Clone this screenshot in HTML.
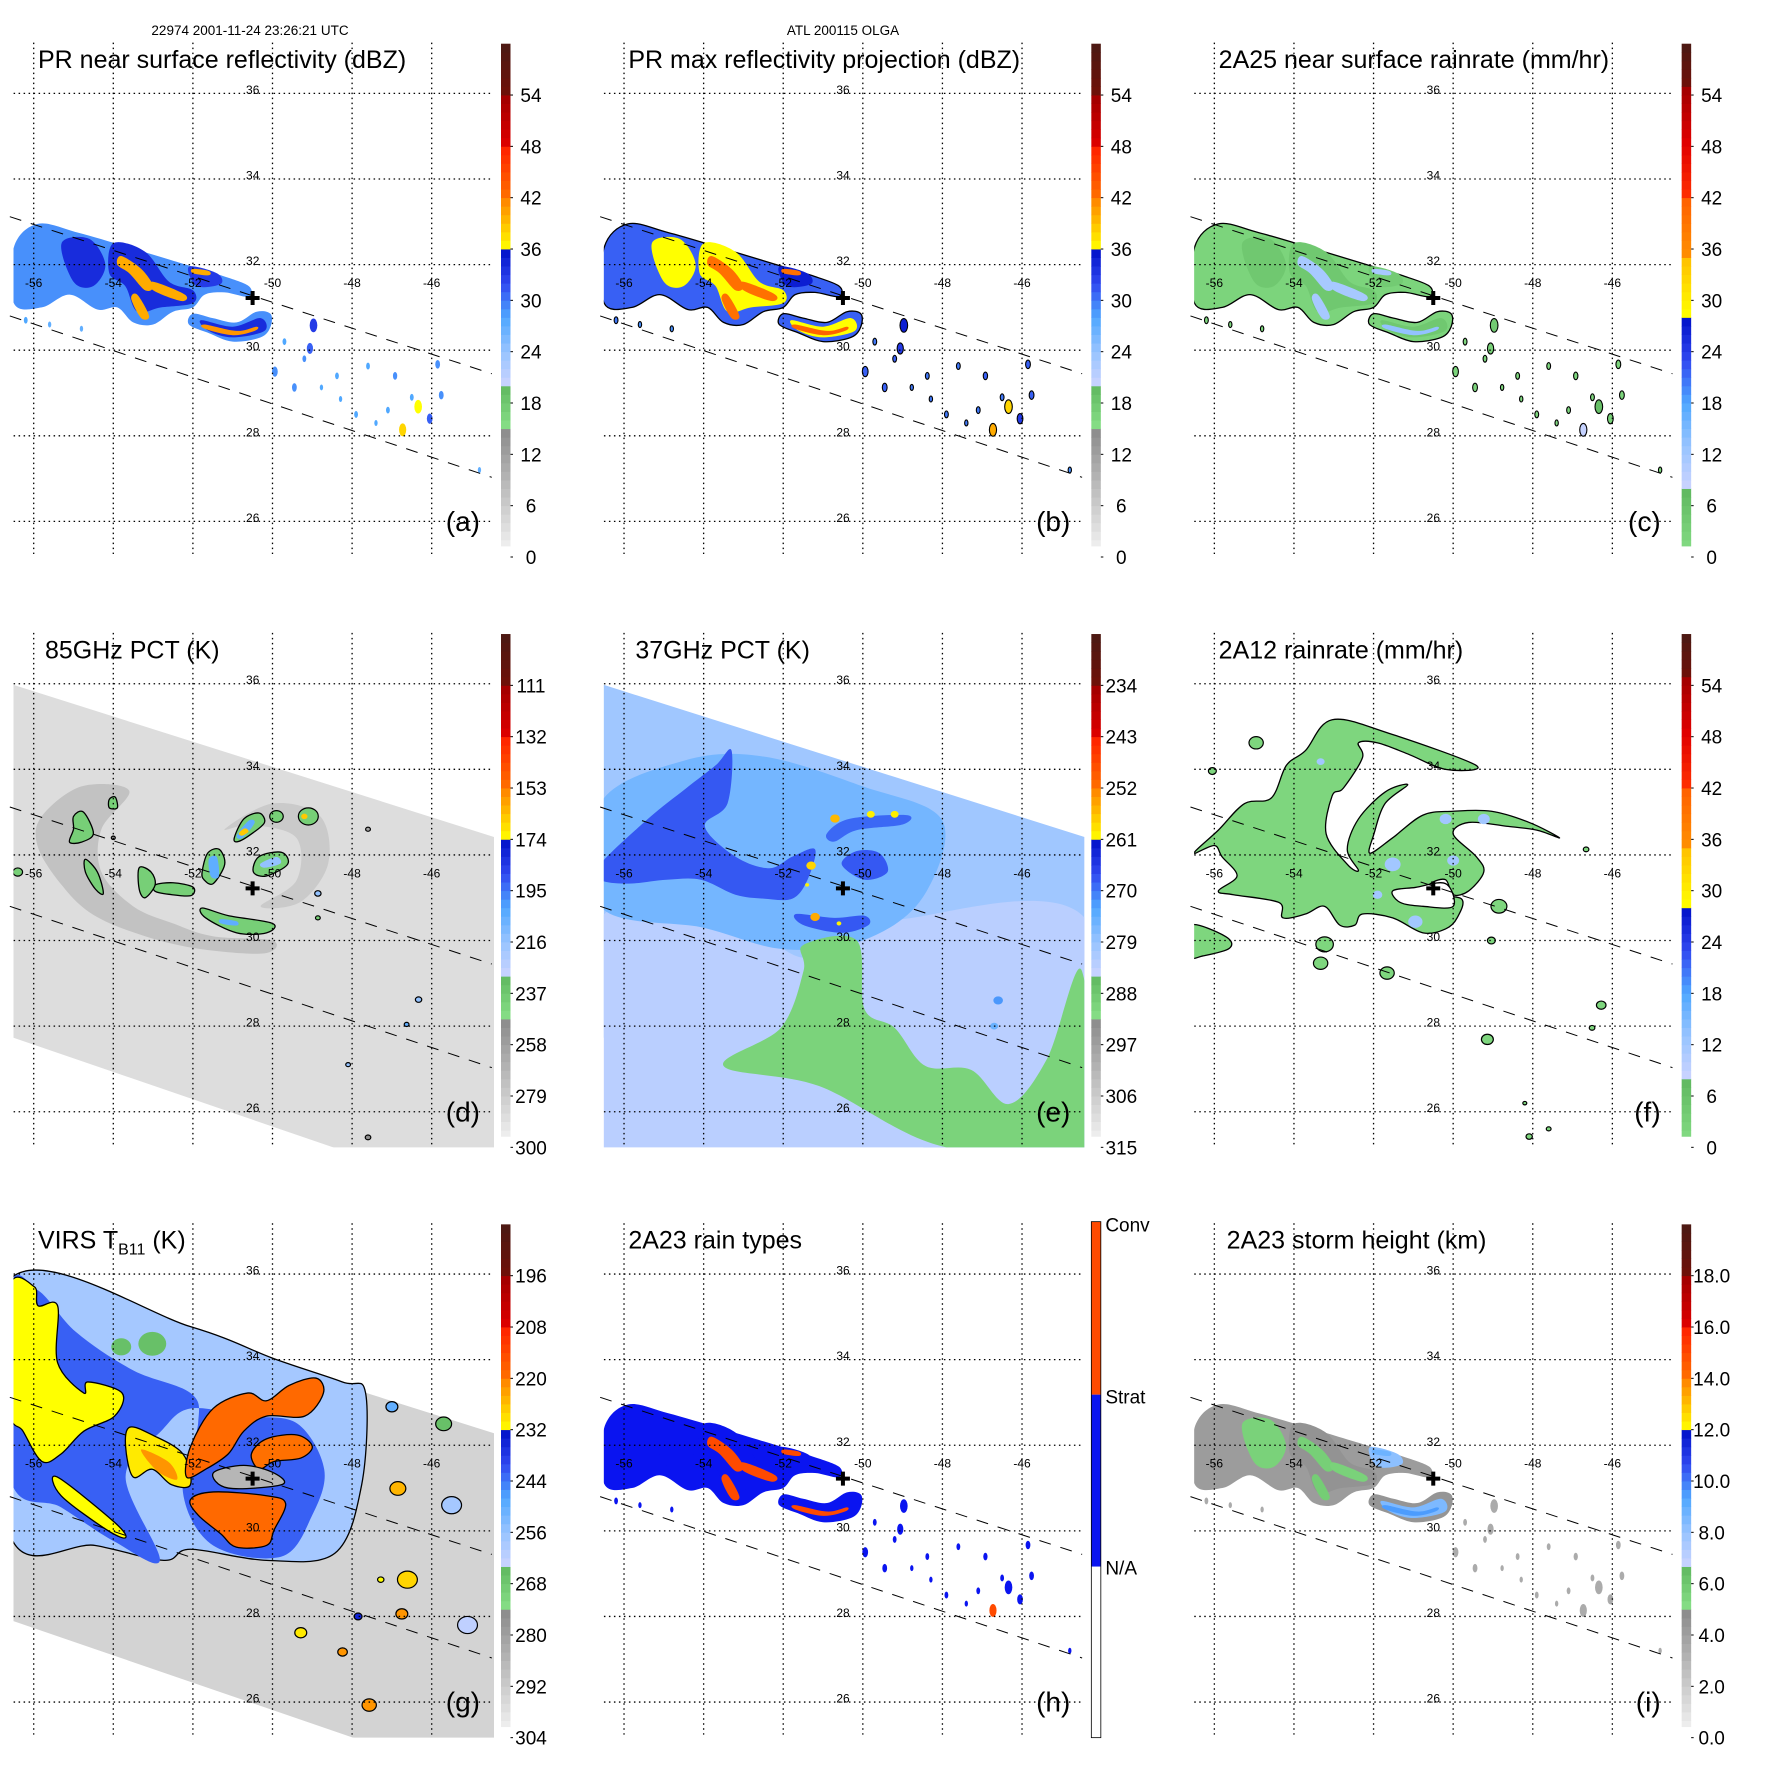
<!DOCTYPE html>
<html><head><meta charset="utf-8"><title>TRMM OLGA multi-panel</title>
<style>
html,body{margin:0;padding:0;background:#fff;}
svg{display:block;font-family:"Liberation Sans",Arial,sans-serif;}
</style></head>
<body>
<svg id="chart" xmlns="http://www.w3.org/2000/svg" width="1771" height="1771" viewBox="0 0 1771 1771">
<rect x="0" y="0" width="1771" height="1771" fill="#fff"/>
<text x="250" y="35" font-size="13.5" text-anchor="middle">22974 2001-11-24 23:26:21 UTC</text>
<text x="843" y="35" font-size="13.5" text-anchor="middle">ATL 200115 OLGA</text>
</svg>
<script>
// ---------- DATA (geographic lon/lat + field values) ----------
const lonTicks=[-56,-54,-52,-50,-48,-46];
const latTicks=[36,34,32,30,28,26];
const stormCenter=[-50.5,31.22];
const labelsA=['0','6','12','18','24','30','36','42','48','54'];
const labelsD=['300','279','258','237','216','195','174','153','132','111'];
const labelsE=['315','306','297','288','279','270','261','252','243','234'];
const labelsG=['304','292','280','268','256','244','232','220','208','196'];
const labelsI=['0.0','2.0','4.0','6.0','8.0','10.0','12.0','14.0','16.0','18.0'];
const swathUpper=[[-56.6,33.12],[-44.49,29.45]];
const swathLower=[[-56.6,30.80],[-44.49,27.03]];
const tmiSwath=[-56.6,36.0,-44.4,32.41,-44.4,25.0,-47.95,25.0,-56.6,27.76];
const virsSwath=[-56.6,35.85,-44.4,32.27,-44.4,25.0,-47.45,25.0,-56.6,27.92];

// PR (precipitation radar) shared shapes with values
const prShapes=[
 [-56.5,32.4,-55.9,32.95,-54.9,32.75,-53.6,32.4,-52.0,31.95,-51.3,31.75,-50.6,31.5,-50.6,31.25,-51.2,31.35,-51.7,31.3,-52.0,31.0,-52.5,30.9,-53.0,30.6,-53.5,30.65,-53.9,31.0,-54.4,30.95,-55.1,31.3,-55.8,31.0,-56.5,31.1],
 [-52.0,30.85,-51.5,30.75,-50.9,30.65,-50.4,30.9,-50.05,30.85,-50.05,30.55,-50.3,30.3,-51.0,30.2,-51.6,30.4,-52.1,30.6],
 [-55.3,32.5,-54.6,32.6,-54.2,32.0,-54.5,31.5,-55.0,31.6],
 [-54.0,32.5,-53.2,32.3,-52.6,31.6,-52.0,31.4,-52.0,31.1,-52.8,31.0,-53.4,30.9,-53.7,31.5,-54.1,31.8],
 [-51.8,30.7,-51.0,30.55,-50.3,30.75,-50.2,30.45,-51.0,30.3,-51.6,30.45],
 [-52.1,31.95,-51.4,31.8,-51.3,31.55,-51.9,31.5],
 [-53.8,32.2,-53.3,31.9,-53.0,31.5,-53.2,31.4,-53.6,31.8,-53.9,32.0],
 [-53.0,31.6,-52.2,31.3,-52.3,31.15,-53.0,31.4],
 [-53.4,31.3,-53.1,30.8,-53.3,30.75,-53.55,31.2],
 [-51.7,30.6,-50.9,30.45,-50.4,30.55,-50.45,30.45,-51.0,30.35,-51.7,30.5],
 [-52.0,31.9,-51.6,31.85,-51.6,31.75,-52.0,31.8]
];
const prDbz=[29,29,34,34,34,33,40,40,40,41,40];
const prHgt=[4.2,4.5,5.6,4.6,8.5,8.2,5.7,5.6,5.8,9.5,8.8];
const prOutline=[1,1,0,0,0,0,0,0,0,0,0];
const prCellLon=[-48.97,-49.06,-49.94,-49.45,-48.38,-47.6,-46.92,-46.34,-46.73,-46.05,-45.85,-45.76,-47.9,-47.1,-44.8,-48.77,-48.29,-49.7,-49.2,-47.4,-46.5,-56.2,-55.6,-54.8];
const prCellLat=[30.58,30.04,29.5,29.13,29.4,29.63,29.4,28.68,28.14,28.4,29.67,28.95,28.5,28.6,27.2,29.13,28.86,30.2,29.8,28.3,28.9,30.7,30.6,30.5];
const prCellSize=[0.16,0.13,0.12,0.1,0.08,0.08,0.09,0.16,0.15,0.12,0.1,0.1,0.08,0.08,0.07,0.07,0.07,0.08,0.08,0.07,0.08,0.08,0.07,0.07];
const prCellDbz=[33,31,29,29,28,28,29,36,38,31,29,29,28,28,27,28,28,28,29,28,28,28,27,27];

// 85 GHz PCT (K)
const regionsD=[
 [274,0,[-55.8,32.9,-54.8,33.6,-53.6,33.5,-54.3,32.6,-54.3,31.6,-53.5,30.8,-52.5,30.4,-51.5,30.1,-50.0,30.0,-50.2,29.7,-51.8,29.8,-53.2,30.1,-54.5,30.6,-55.3,31.3,-55.9,32.2]],
 [278,0,[-51.2,32.6,-50.0,33.2,-48.8,32.9,-48.6,31.8,-49.3,30.9,-50.3,30.8,-49.4,31.4,-49.4,32.4,-50.5,32.7]],
 [240,1,[-50.96,32.4,-50.72,32.84,-50.34,32.98,-50.2,32.76,-50.53,32.49,-50.87,32.31]],
 [240,1,[-50.48,31.6,-50.34,31.96,-49.77,32.06,-49.62,31.78,-50.15,31.51]],
 [240,1,[-51.77,31.6,-51.63,32.04,-51.34,32.13,-51.2,31.78,-51.49,31.33,-51.72,31.42]],
 [240,1,[-52.95,31.3,-52.5,31.35,-52.0,31.25,-52.05,31.05,-52.6,31.08,-52.95,31.15]],
 [240,1,[-51.77,30.76,-51.1,30.58,-50.0,30.4,-50.15,30.18,-50.9,30.18,-51.68,30.53]],
 [240,1,[-53.35,31.7,-53.05,31.6,-52.95,31.3,-53.2,31.0,-53.35,31.2]],
 [240,1,[-54.7,31.9,-54.4,31.6,-54.25,31.1,-54.45,31.2,-54.7,31.6]],
 [240,1,[-55.0,32.9,-54.75,33.0,-54.5,32.5,-54.8,32.3,-55.1,32.3,-55.0,32.6]],
 [240,1,[-54.1,33.3,-53.95,33.35,-53.9,33.1,-54.1,33.1]],
 [205,0,[-50.9,32.45,-50.6,32.8,-50.45,32.75,-50.75,32.4]],
 [165,0,[-50.85,32.5,-50.7,32.62,-50.6,32.55,-50.75,32.45]],
 [205,0,[-51.6,31.9,-51.4,31.95,-51.35,31.5,-51.55,31.5]],
 [205,0,[-51.3,30.5,-50.9,30.45,-50.9,30.35,-51.3,30.4]],
 [215,0,[-50.3,31.8,-49.9,31.95,-49.8,31.8,-50.2,31.7]]
];
const cellsD=[[-49.9,32.9,0.17,240,1],[-49.1,32.9,0.25,240,1],[-49.2,32.9,0.08,165,0],[-48.86,31.1,0.08,215,1],[-48.86,30.53,0.06,240,1],[-46.33,28.62,0.08,215,1],[-46.63,28.04,0.06,205,1],[-48.1,27.1,0.06,215,1],[-47.6,32.6,0.06,260,1],[-47.6,25.4,0.07,250,1],[-56.4,31.6,0.12,240,1],[-54.0,32.4,0.05,250,1]];

// 37 GHz PCT (K)
const regionsE=[
 [283,0,[-56.6,30.5,-53,30.2,-51.5,29.6,-50.5,30,-49,30.5,-44.4,30.5,-44.4,25,-56.6,25]],
 [276,0,[-56.6,33.2,-54.5,34.2,-52.5,34.3,-50,33.6,-48,32.8,-48.5,31,-50,30,-52,29.8,-54,30.3,-56.6,30.8]],
 [290,0,[-51.49,29.9,-50.15,30.0,-49.96,28.4,-49.2,27.96,-48.43,27.07,-47.28,26.98,-46.33,26.18,-45.37,27.24,-44.5,29.3,-44.4,25,-48.05,25.2,-51.1,26.6,-53.5,27.07,-52.06,27.96,-51.49,29.29]],
 [268,0,[-56.6,31.78,-55.4,32.84,-54.45,33.55,-53.7,34.09,-53.3,34.44,-53.4,33.2,-53.97,32.67,-53.2,31.96,-52.35,31.69,-51.77,31.96,-51.2,32.13,-51.39,31.42,-51.77,30.98,-52.5,30.98,-53.2,31.07,-54.07,31.42,-54.93,31.42,-55.9,31.33,-56.6,31.42]],
 [268,0,[-51.68,30.62,-50.72,30.53,-49.96,30.58,-49.86,30.36,-50.53,30.18,-51.49,30.36]],
 [268,0,[-50.53,31.78,-50.15,32.09,-49.58,32.04,-49.38,31.6,-49.96,31.42]],
 [269,0,[-50.91,32.49,-50.34,32.84,-48.9,32.93,-49.0,32.71,-50.15,32.58,-50.72,32.31]]
];
const cellsE=[[-51.3,31.75,0.12,258,0],[-50.7,32.85,0.12,256,0],[-49.8,32.95,0.1,260,0],[-49.2,32.95,0.1,260,0],[-51.2,30.55,0.12,255,0],[-50.6,30.4,0.06,260,0],[-51.4,31.3,0.05,260,0],[-46.6,28.6,0.12,272,0],[-46.7,28.0,0.1,275,0]];

// 2A12 rain rate (mm/hr)
const regionsF=[
 [2,1,[-56.52,32.04,-55.9,32.58,-55.24,33.2,-54.57,33.33,-54.19,34.09,-53.71,34.44,-53.04,35.16,-51.61,34.84,-49.42,34.09,-50.19,34.0,-51.14,34.36,-51.9,34.62,-52.38,34.62,-52.28,34.27,-52.76,33.56,-53.04,33.38,-53.19,32.49,-52.66,31.78,-52.38,31.64,-52.66,32.13,-52.38,32.84,-51.71,33.47,-51.14,33.64,-51.71,33.2,-51.99,32.49,-52.09,32.04,-51.52,32.4,-50.76,32.93,-50.0,33.02,-49.04,33.02,-48.09,32.76,-47.33,32.4,-47.9,32.58,-48.66,32.67,-49.61,32.76,-50.0,32.49,-49.42,31.96,-49.23,31.6,-49.61,31.16,-50.0,31.07,-50.19,31.42,-50.57,31.33,-50.66,31.07,-49.8,30.98,-49.9,30.53,-50.19,30.27,-50.76,30.18,-51.52,30.53,-52.28,30.62,-52.47,30.36,-52.85,30.36,-53.23,30.8,-53.71,30.62,-54.28,30.53,-54.38,30.89,-55.52,31.07,-55.9,31.16,-55.43,31.51,-55.81,31.96,-56.0,32.22]],
 [2,1,[-56.6,30.36,-55.71,30.09,-55.62,29.82,-56.29,29.64,-56.6,29.64]],
 [-1,1,[-51.52,31.16,-50.95,31.24,-50.19,31.33,-50.0,30.8,-50.76,30.8,-51.33,30.89]]
];
const cellsF=[[-53.23,29.91,0.22,2,1],[-53.33,29.47,0.18,2,1],[-51.66,29.24,0.18,2,1],[-48.85,30.8,0.2,2,1],[-49.04,30.0,0.1,2,1],[-49.14,27.69,0.15,2,1],[-46.28,28.49,0.12,2,1],[-46.51,27.96,0.07,2,1],[-46.66,32.13,0.07,2,1],[-54.95,34.62,0.18,2,1],[-56.05,33.96,0.1,2,1],[-48.09,25.42,0.08,2,1],[-47.6,25.6,0.06,2,1],[-48.2,26.2,0.05,2,1],[-51.52,31.78,0.2,12,0],[-51.9,31.07,0.12,12,0],[-50.95,30.44,0.18,12,0],[-50.0,31.87,0.15,12,0],[-50.19,32.84,0.15,12,0],[-49.23,32.84,0.15,12,0],[-53.33,34.18,0.1,12,0]];

// VIRS Tb11 (K)
const regionsG=[
 [258,1,[-56.6,35.87,-52.06,34.77,-49.96,34.02,-48.24,33.48,-47.66,33.22,-47.76,31.08,-48.43,29.48,-50.15,29.31,-52.06,29.57,-52.73,29.31,-54.45,29.66,-56.6,29.93]],
 [242,0,[-56.6,35.62,-55.89,35.62,-54.93,34.64,-53.5,33.75,-52.06,33.22,-51.87,32.51,-52.25,30.91,-51.49,29.66,-49.77,29.4,-49.0,30.37,-48.7,31.44,-49.38,32.51,-50.63,32.68,-52.06,32.86,-52.8,32.33,-53.69,31.26,-52.83,29.31,-53.97,29.75,-55.31,30.55,-56.6,31.26]],
 [232,1,[-56.6,35.7,-55.98,35.7,-55.89,35.26,-55.4,35.26,-55.4,33.93,-54.74,33.22,-54.64,33.48,-53.78,33.22,-53.97,32.68,-54.74,32.33,-55.31,31.8,-55.79,31.62,-56.27,32.33,-56.6,32.86]],
 [232,1,[-55.41,31.26,-53.97,30.2,-53.69,29.84,-54.16,30.02,-55.31,30.82]],
 [230,1,[-53.59,32.42,-53.02,32.24,-52.25,31.8,-52.06,31.08,-52.54,31.08,-53.02,31.44,-53.5,31.26,-53.69,31.97]],
 [222,0,[-53.3,31.9,-52.6,31.6,-52.4,31.2,-52.9,31.4]],
 [219,1,[-52.06,31.97,-51.49,32.86,-50.63,33.22,-50.15,33.04,-49.58,33.4,-48.91,33.57,-48.72,33.22,-49.19,32.68,-50.15,32.68,-50.72,32.33,-51.11,31.8,-51.68,31.44,-52.16,31.26]],
 [220,1,[-50.53,31.8,-50.15,32.15,-49.38,32.24,-49.0,31.97,-49.29,31.7,-49.96,31.62,-50.34,31.44]],
 [219,1,[-52.06,30.73,-51.49,30.91,-50.15,30.82,-49.67,30.64,-49.96,30.02,-50.15,29.66,-50.91,29.62,-51.3,29.93,-51.87,30.37]],
 [286,1,[-51.49,31.35,-50.72,31.53,-49.96,31.35,-49.77,31.08,-51.11,31.0]]
];
const cellsG=[[-46.85,30.99,0.2,225,1],[-46.61,28.86,0.25,228,1],[-46.75,28.06,0.15,222,1],[-49.29,27.62,0.15,230,1],[-48.24,27.17,0.12,222,1],[-47.57,25.93,0.18,222,1],[-47.85,28.0,0.1,235,1],[-47.28,28.86,0.08,232,1],[-45.5,30.6,0.25,258,1],[-45.1,27.8,0.25,262,1],[-53.02,34.37,0.35,266,0],[-53.8,34.3,0.25,266,0],[-45.7,32.5,0.2,266,1],[-47.0,32.9,0.15,250,1]];

// ---------- COLOUR MAPS ----------
const cmapA=[[0,.25,['#f8f8f8','#8a8a8a']],[.25,.333,['#88e088','#60b860']],[.333,.6,['#ccd4ff','#98c4ff','#50a8ff','#3048f0','#0010c8']],[.6,.7,['#ffff00','#ffc000','#ff8000']],[.7,.8,['#ff7000','#ff2000']],[.8,.9,['#e00000','#a00000']],[.9,1.001,['#701008','#4a1a14']]];
const cmapC=[[0,.133,['#88e088','#60b860']],[.133,.467,['#ccd4ff','#98c4ff','#50a8ff','#3048f0','#0010c8']],[.467,.583,['#ffff00','#ffc000']],[.583,.7,['#ff9000','#ff6000']],[.7,.917,['#ff3000','#e00000','#a00000']],[.917,1.001,['#701008','#4a1a14']]];
function hex(c){return [parseInt(c.substr(1,2),16),parseInt(c.substr(3,2),16),parseInt(c.substr(5,2),16)];}
function colorAt(cm,p){
 p=Math.max(0,Math.min(1,p));
 for(const s of cm){ if(p>=s[0]&&p<s[1]){
   const st=s[2]; const t=(p-s[0])/(s[1]-s[0])*(st.length-1);
   const i=Math.min(st.length-2,Math.floor(t)); const f=t-i;
   const a=hex(st[i]),b=hex(st[i+1]);
   return 'rgb('+a.map((v,k)=>Math.round(v+(b[k]-v)*f)).join(',')+')';}}
 return '#4a1a14';
}
function rateFromDbz(d){return Math.pow(Math.pow(10,d/10)/200,1/1.6);}

// ---------- AXIS FUNCTIONS ----------
function lx(lon){return 33.7+(lon+56)*39.8;}
function ly(lat){return 93.4+(36-lat)*42.8;}
function barY(p){return 557-p*513.3;}

const NS='http://www.w3.org/2000/svg';
const svg=document.getElementById('chart');
function mk(tag,attrs,parent){const e=document.createElementNS(NS,tag);for(const k in attrs)e.setAttribute(k,attrs[k]);parent.appendChild(e);return e;}
function toPts(flat){const r=[];for(let i=0;i<flat.length;i+=2)r.push([lx(flat[i]),ly(flat[i+1])]);return r;}
function smoothPath(pts){
 const n=pts.length;let d='M'+pts[0][0].toFixed(1)+','+pts[0][1].toFixed(1);
 for(let i=0;i<n;i++){const p0=pts[(i-1+n)%n],p1=pts[i],p2=pts[(i+1)%n],p3=pts[(i+2)%n];
  const c1x=p1[0]+(p2[0]-p0[0])/6,c1y=p1[1]+(p2[1]-p0[1])/6,c2x=p2[0]-(p3[0]-p1[0])/6,c2y=p2[1]-(p3[1]-p1[1])/6;
  d+='C'+c1x.toFixed(1)+','+c1y.toFixed(1)+' '+c2x.toFixed(1)+','+c2y.toFixed(1)+' '+p2[0].toFixed(1)+','+p2[1].toFixed(1);}
 return d+'Z';}

// ---------- PANELS ----------
const W=590.33;
const panels=[
 {id:'a',col:0,row:0,title:'PR near surface reflectivity (dBZ)',tx:38,labels:labelsA,kind:'pr',cm:cmapA,val:(d)=>d,p:v=>v/60,outline:false,cellVal:d=>d},
 {id:'b',col:1,row:0,title:'PR max reflectivity projection (dBZ)',tx:38,labels:labelsA,kind:'pr',cm:cmapA,val:(d)=>d+2,p:v=>v/60,outline:true,cellVal:d=>d+2},
 {id:'c',col:2,row:0,title:'2A25 near surface rainrate (mm/hr)',tx:38,labels:labelsA,kind:'pr',cm:cmapC,val:(d)=>rateFromDbz(d),p:v=>v/60,outline:true,cellVal:d=>rateFromDbz(d)},
 {id:'d',col:0,row:1,title:'85GHz PCT (K)',tx:45,labels:labelsD,kind:'field',cm:cmapA,p:v=>(300-v)/210,bg:287,swath:tmiSwath,regions:regionsD,cells:cellsD},
 {id:'e',col:1,row:1,title:'37GHz PCT (K)',tx:45,labels:labelsE,kind:'field',cm:cmapA,p:v=>(315-v)/90,bg:280,swath:tmiSwath,regions:regionsE,cells:cellsE},
 {id:'f',col:2,row:1,title:'2A12 rainrate (mm/hr)',tx:38,labels:labelsA,kind:'field',cm:cmapC,p:v=>v/60,bg:null,swath:null,regions:regionsF,cells:cellsF},
 {id:'g',col:0,row:2,title:'VIRS',tx:38,labels:labelsG,kind:'field',cm:cmapA,p:v=>(304-v)/120,bg:294,swath:virsSwath,regions:regionsG,cells:cellsG},
 {id:'h',col:1,row:2,title:'2A23 rain types',tx:38,labels:null,kind:'pr',cm:null,val:(d)=>d,outline:false,cellVal:d=>d},
 {id:'i',col:2,row:2,title:'2A23 storm height (km)',tx:46,labels:labelsI,kind:'pr',cm:cmapA,val:null,p:v=>v/20,outline:false,cellVal:d=>3.5}
];

const defs=mk('defs',{},svg);
panels.forEach(P=>{
 const ox=P.col*W, oy=P.row*W;
 const g=mk('g',{transform:'translate('+ox.toFixed(2)+','+oy.toFixed(2)+')'},svg);
 
 
 const cp=mk('clipPath',{id:'clip-'+P.id},defs);
 mk('rect',{x:13.5,y:42,width:480.5,height:515},cp);
 const data=mk('g',{'clip-path':'url(#clip-'+P.id+')'},g);
 
 

 function colFor(v){
  if(P.id==='h') return v>=38?'#ff4a00':'#0a14f0';
  return colorAt(P.cm,P.p(v));
 }
 if(P.kind==='pr'){
  prShapes.forEach((s,i)=>{
   let v = P.id==='i' ? prHgt[i] : P.val(prDbz[i]);
   const el=mk('path',{d:smoothPath(toPts(s)),fill:colFor(v),stroke:(P.outline&&prOutline[i])?'#000':'none','stroke-width':1.3},data);
   
   
  });
  prCellLon.forEach((lon,i)=>{
   const v=P.cellVal(prCellDbz[i]);
   const el=mk('ellipse',{cx:lx(lon),cy:ly(prCellLat[i]),rx:prCellSize[i]*39.8*0.6,ry:prCellSize[i]*42.8,fill:colFor(v),stroke:P.outline?'#000':'none','stroke-width':1.1},data);
   
   
  });
 } else {
  if(P.swath){
   const el=mk('polygon',{points:toPts(P.swath).map(q=>q[0].toFixed(1)+','+q[1].toFixed(1)).join(' '),fill:colFor(P.bg)},data);
   
   
  }
  P.regions.forEach(r=>{
   const fill = r[0]<0 ? '#ffffff' : colFor(r[0]);
   const el=mk('path',{d:smoothPath(toPts(r[2])),fill:fill,stroke:r[1]?'#000':'none','stroke-width':1.3},data);
   
   
  });
  P.cells.forEach(c=>{
   const el=mk('ellipse',{cx:lx(c[0]),cy:ly(c[1]),rx:c[2]*39.8,ry:c[2]*42.8*0.8,fill:colFor(c[3]),stroke:c[4]?'#000':'none','stroke-width':1.2},data);
   
   
  });
 }

 [swathUpper,swathLower].forEach((L,k)=>{
  const el=mk('line',{x1:lx(L[0][0]),y1:ly(L[0][1]),x2:lx(L[1][0]),y2:ly(L[1][1]),stroke:'#000','stroke-width':1,'stroke-dasharray':'12,10'},g);
  
  
 });
 lonTicks.forEach(lon=>{
  const el=mk('line',{x1:lx(lon),y1:42.6,x2:lx(lon),y2:554,stroke:'#000','stroke-width':1.3,'stroke-dasharray':'1.5,3.5'},g);
  
  
  const t=mk('text',{x:lx(lon),y:287,'font-size':12,'text-anchor':'middle'},g);
  t.textContent=String(lon);
  
  
 });
 latTicks.forEach(lat=>{
  const el=mk('line',{x1:13.6,y1:ly(lat),x2:492,y2:ly(lat),stroke:'#000','stroke-width':1.3,'stroke-dasharray':'1.5,3.5'},g);
  
  
  const t=mk('text',{x:252.7,y:ly(lat)+0.5,'font-size':12,'text-anchor':'middle'},g);
  t.textContent=String(lat);
  
  
 });
 const cx=lx(stormCenter[0]),cy=ly(stormCenter[1]);
 const cr=mk('path',{d:'M'+(cx-2)+','+(cy-7)+'h4v5h5v4h-5v5h-4v-5h-5v-4h5z',fill:'#000'},g);
 
 

 const tt=mk('text',{x:P.tx,y:68,'font-size':25},g);
 
 
 if(P.id==='g'){
  tt.appendChild(document.createTextNode('VIRS T'));
  const sb=mk('tspan',{'font-size':16,dy:6},tt); sb.textContent='B11';
  const rest=mk('tspan',{dy:-6},tt); rest.textContent=' (K)';
 } else tt.textContent=P.title;
 const lt=mk('text',{x:480,y:531,'font-size':28,'text-anchor':'end'},g);
 lt.textContent='('+P.id+')';
 
 

 const cb=mk('g',{},g);
 
 
 if(P.id==='h'){
  const segs=[[41,214,'#ff4a00'],[214,386,'#0a14f0'],[386,557,'#ffffff']];
  segs.forEach(s=>{mk('rect',{x:501,y:s[0],width:9.5,height:s[1]-s[0],fill:s[2]},cb);});
  mk('rect',{x:501,y:41,width:9.5,height:516,fill:'none',stroke:'#000','stroke-width':0.8},cb);
  [['Conv',51],['Strat',223],['N/A',394]].forEach(L=>{
   const t=mk('text',{x:515,y:L[1],'font-size':19},cb);
   t.textContent=L[0];
   
   
  });
 } else {
  for(let k=0;k<60;k++){
   const p0=k/60,p1=(k+1)/60;
   let y0=barY(p1),y1=barY(p0);
   y0=Math.max(41,y0); y1=Math.min(546,y1);
   if(y1<=y0) continue;
   mk('rect',{x:501,y:y0,width:9.5,height:(y1-y0+0.4),fill:colorAt(P.cm,(p0+p1)/2)},cb);
  }
  P.labels.forEach((lab,i)=>{
   const y=barY(i/10);
   mk('line',{x1:510.5,y1:y,x2:513,y2:y,stroke:'#000','stroke-width':1},cb);
   const t=mk('text',{x:531,y:y+7,'font-size':19,'text-anchor':'middle'},cb);
   t.textContent=lab;
   
   
  });
 }
});
</script>
</body></html>
